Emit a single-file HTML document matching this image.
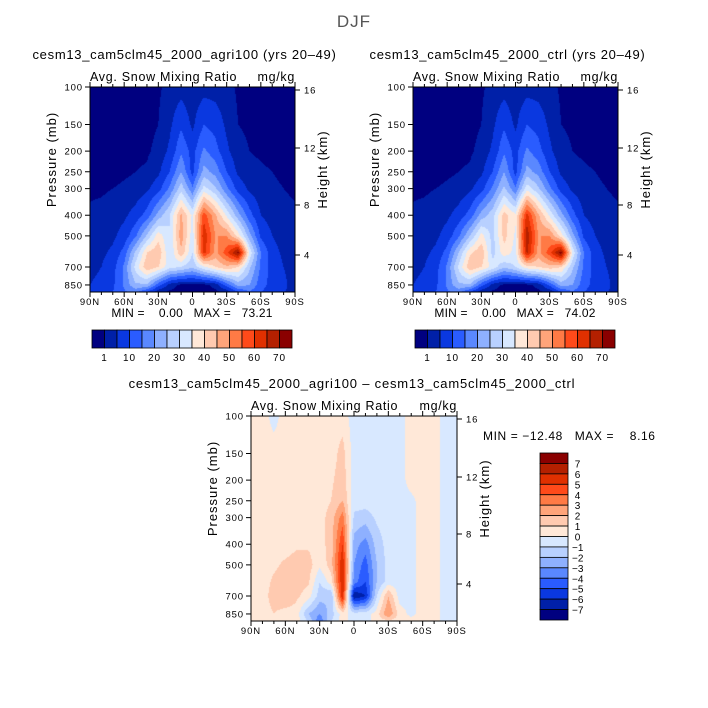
<!DOCTYPE html>
<html><head><meta charset="utf-8"><style>
body{margin:0;background:#fff;width:708px;height:708px;overflow:hidden;position:relative;font-family:"Liberation Sans",sans-serif;}
canvas{position:absolute;}
svg{position:absolute;left:0;top:0;}
text{white-space:pre;}
</style></head><body>
<canvas id="c1" width="205" height="205" style="left:90px;top:87px"></canvas>
<canvas id="c2" width="205" height="205" style="left:413px;top:87px"></canvas>
<canvas id="c3" width="206" height="205" style="left:251px;top:416px"></canvas>
<svg id="s" width="708" height="708"></svg>
<script>
const lats=[90,80,70,60,50,40,30,20,10,0,-10,-20,-30,-40,-50,-60,-70,-80,-90];
const levels=[100,150,200,250,300,400,500,600,700,850,925];
const fieldAgri=[
[0,0,0,0,0,0,0.5,2,3,2,3,3,2,0.5,0,0,0,0,0],
[0,0,0,0,0,0,1,4,9,4,10,8,4,1,0.5,0,0,0,0],
[0,0,0,0,0,0.5,2,6,14,8,16,12,6,2,1,0.5,0,0,0],
[0,0,0,0.5,1,1.5,4,10,20,8,22,18,10,4,2,1.5,1,0.5,0],
[0.5,0.5,1,1.5,2,4,8,16,28,16,32,26,16,8,4,2,1.5,1,0.5],
[1.5,2,3,4,7,12,22,30,46,34,58,46,34,22,12,5,3,2,1.5],
[2,3,4,7,14,26,38,30,48,32,64,50,50,38,22,9,5,3,2],
[3,4,6,12,26,40,44,30,44,30,62,48,58,72,34,15,7,4,2],
[4,5,8,16,32,44,40,32,30,26,34,40,44,40,26,14,8,5,3],
[5,6,9,16,24,24,12,3,0,0,0,2,12,22,20,12,8,6,3],
[5,6,10,14,16,8,0.5,0,0,0,0,0,0.5,8,14,10,7,5,4]];
const fieldCtrl=[
[0,0,0,0,0,0,0.5,2,3,2,3,3,2,0.5,0,0,0,0,0],
[0,0,0,0,0,0,1,4,9,4,10,8,4,1,0.5,0,0,0,0],
[0,0,0,0,0,0.5,2,6,14,8,16,12,6,2,1,0.5,0,0,0],
[0,0,0,0.5,1,1.5,4,10,20,8,22,18,10,4,2,1.5,1,0.5,0],
[0.5,0.5,1,1.5,2,4,8,16,26,16,33,26,16,8,4,2,1.5,1,0.5],
[1.5,2,3,4,7,12,22,28,42,36,62,46,34,22,12,5,3,2,1.5],
[2,3,4,7,14,25,37,28,42,34,69,50,50,38,22,9,5,3,2],
[3,4,6,12,25,39,44,28,38,33,66,48,58,73,34,15,7,4,2],
[4,5,8,16,31,44,40,33,26,30,38,40,43,40,26,14,8,5,3],
[5,6,9,16,24,24,12,3,0,0,0,2,11,22,20,12,8,6,3],
[5,6,10,14,16,8,0.5,0,0,0,0,0,0.5,8,14,10,7,5,4]];
const fieldDiff=[
[0.5,0.5,-0.4,0.5,0.5,0.5,0.5,0.5,0.5,-0.5,-0.5,-0.5,-0.5,-0.5,0.5,0.5,0.5,-0.5,-0.5],
[0.5,0.5,0.5,0.5,0.5,0.5,0.5,0.5,1.4,-0.5,-0.5,-0.5,-0.5,-0.5,0.5,0.5,0.5,-0.5,-0.5],
[0.5,0.5,0.5,0.5,0.5,0.5,0.5,0.8,1.6,-0.5,-0.5,-0.5,-0.5,-0.5,0.5,0.5,0.5,-0.5,-0.5],
[0.5,0.5,0.5,0.5,0.5,0.5,0.5,1,2,-0.6,-0.5,-0.5,-0.5,-0.5,-0.3,0.5,0.5,-0.5,-0.5],
[0.5,0.5,0.5,0.5,0.5,0.5,0.5,1.5,3.5,-1.2,-1.5,-0.8,-0.5,-0.5,-0.3,0.5,0.5,-0.5,-0.5],
[0.5,0.5,0.5,0.5,0.8,0.8,0.5,1.5,5,-2.5,-3.5,-1.5,-0.6,-0.5,-0.3,0.5,0.5,-0.5,-0.5],
[0.5,0.5,0.8,1.2,1.5,1.5,0.2,1.5,6,-3,-4.5,-2,-0.6,-0.5,-0.3,0.5,0.5,-0.5,-0.5],
[0.5,0.5,1.2,1.5,1.5,1.2,-1,0.5,6,-3.5,-5,-2,-0.5,-0.5,-0.3,0.5,0.5,-0.5,-0.5],
[0.5,0.5,1.5,2,1.2,0.5,-1.5,-2,6,-7,-6,-1,2,-0.5,-0.3,0.5,0.5,-0.5,-0.5],
[0.5,0.5,1,0.5,0.5,-2,-3,-1.5,0.5,-0.5,-0.5,0.5,3,0.5,-0.3,0.5,0.5,-0.5,-0.5],
[0.5,0.5,0.5,0.5,0.5,-1,-4,-1,0.5,-0.5,-0.5,0.5,0.5,0.5,0.5,0.5,0.5,-0.5,-0.5]];
const cb1Bounds=[1,5,10,15,20,25,30,35,40,45,50,55,60,65,70];
const cb1Labels=["1","10","20","30","40","50","60","70"];
const cb2Bounds=[-7,-6,-5,-4,-3,-2,-1,0,1,2,3,4,5,6,7];
const colors=["#000080","#0020a8","#0a38e0","#2a5cff","#5a88ff","#8eb0ff","#b8d0ff","#d8e8ff","#ffe8d8","#ffcab0","#ffa47a","#ff7a45","#ff4a1a","#e03000","#b42000","#8a0000"];

const K=92.5;
function yOfP(p){return K*Math.log(p/100);}
function xOfLat(lat,w){return (90-lat)/180*w;}
function colorFor(v,b){let i=0;while(i<b.length&&v>=b[i])i++;return colors[i];}
function sample(f,lat,p){
  let fi=(90-lat)/10; let i0=Math.min(Math.floor(fi),lats.length-2); let tx=fi-i0;
  const lp=Math.log(p); let j0=0;
  while(j0<levels.length-2&&Math.log(levels[j0+1])<lp)j0++;
  let ty=(lp-Math.log(levels[j0]))/(Math.log(levels[j0+1])-Math.log(levels[j0]));
  ty=Math.max(0,Math.min(1,ty));
  const a=f[j0][i0],b=f[j0][i0+1],c=f[j0+1][i0],d=f[j0+1][i0+1];
  return (a*(1-tx)+b*tx)*(1-ty)+(c*(1-tx)+d*tx)*ty;
}
function draw(id,f,b){
  const cv=document.getElementById(id),ctx=cv.getContext('2d'),W=cv.width,H=cv.height;
  for(let y=0;y<H;y++){const p=100*Math.exp((y+0.5)/K);
    for(let x=0;x<W;x++){const lat=90-(x+0.5)/W*180;
      ctx.fillStyle=colorFor(sample(f,lat,p),b);ctx.fillRect(x,y,1,1);}}
}
draw('c1',fieldAgri,cb1Bounds);draw('c2',fieldCtrl,cb1Bounds);draw('c3',fieldDiff,cb2Bounds);

const S=document.getElementById('s');const NS="http://www.w3.org/2000/svg";
function el(t,a,txt){const e=document.createElementNS(NS,t);for(const k in a)e.setAttribute(k,a[k]);if(txt!==undefined)e.textContent=txt;S.appendChild(e);return e;}
function text(x,y,s,size,anchor,name,extra){const e=el('text',Object.assign({x:x,y:y,'font-size':size,'text-anchor':anchor||'start',fill:'#000','font-family':'Liberation Sans, sans-serif'},extra||{}),s);

return e;}
text(354,27,"DJF",17,'middle','main-title',{fill:'#555','letter-spacing':1});
const pTicks=[100,150,200,250,300,400,500,700,850];
const hTicks=[[16,3],[12,61],[8,118],[4,168]];
const latTicks=[[90,"90N"],[60,"60N"],[30,"30N"],[0,"0"],[-30,"30S"],[-60,"60S"],[-90,"90S"]];
const LS={'letter-spacing':0.9};
function axes(x0,y0,w,h,title,pre){
  el('rect',{x:x0,y:y0,width:w,height:h,fill:'none',stroke:'#000','stroke-width':1});
  if(title)text(x0+w/2-8,y0-28,title,13,'middle',pre+'-title',{'letter-spacing':0.7});
  text(x0,y0-6,"Avg. Snow Mixing Ratio",12.5,'start',pre+'-subtitle',{'letter-spacing':0.7});
  text(x0+w,y0-6,"mg/kg",12.5,'end',pre+'-units',{'letter-spacing':0.7});
  pTicks.forEach(p=>{const y=y0+yOfP(p);el('line',{x1:x0,x2:x0-5,y1:y,y2:y,stroke:'#000'});
    text(x0-7,y+3.5,String(p),9.5,'end',pre+'-pressure-tick-'+p,LS);});
  hTicks.forEach(([v,dy])=>{const y=y0+dy;el('line',{x1:x0+w,x2:x0+w+5,y1:y,y2:y,stroke:'#000'});
    text(x0+w+9,y+3.5,String(v),9.5,'start',pre+'-height-tick-'+v,LS);});
  for(let lat=90;lat>=-90;lat-=10){const x=x0+xOfLat(lat,w);const maj=lat%30===0;
    el('line',{x1:x,x2:x,y1:y0+h,y2:y0+h+(maj?5:3),stroke:'#000'});
    el('line',{x1:x,x2:x,y1:y0,y2:y0-(maj?5:3),stroke:'#000'});}
  latTicks.forEach(([l,s])=>text(x0+xOfLat(l,w),y0+h+13,s,9.5,'middle',pre+'-lat-tick-'+s,LS));
  text(0,0,"Pressure (mb)",13,'middle',pre+'-y-axis-title',{transform:`translate(${x0-34},${y0+h/2-30}) rotate(-90)`,'letter-spacing':1});
  text(0,0,"Height (km)",13,'middle',pre+'-y2-axis-title',{transform:`translate(${x0+w+32},${y0+h/2-20}) rotate(-90)`,'letter-spacing':1});
}
axes(90,87,205,205,"cesm13_cam5clm45_2000_agri100 (yrs 20–49)",'agri100');
axes(413,87,205,205,"cesm13_cam5clm45_2000_ctrl (yrs 20–49)",'ctrl');
axes(251,416,206,205,null,'diff');
text(352,388,"cesm13_cam5clm45_2000_agri100 – cesm13_cam5clm45_2000_ctrl",13,'middle','diff-title',{'letter-spacing':0.8});
text(192,317,"MIN =    0.00   MAX =   73.21",12,'middle','agri100-minmax',{'letter-spacing':0.2});
text(515,317,"MIN =    0.00   MAX =   74.02",12,'middle','ctrl-minmax',{'letter-spacing':0.2});
text(483,440,"MIN = −12.48   MAX =    8.16",12,'start','diff-minmax',{'letter-spacing':0.6});
function hbar(x0,y0,w,h,pre){const bw=w/16;
  colors.forEach((c,i)=>{const r=el('rect',{x:x0+i*bw,y:y0,width:bw,height:h,fill:c,stroke:'#000','stroke-width':0.8});
    
    });
  cb1Labels.forEach((s,k)=>{const bi=k===0?0:2*k;text(x0+(bi+1)*bw,y0+h+13,s,10,'middle',pre+'-colorbar-label',LS);});
}
hbar(92,330,200,18,'agri100');hbar(415,330,200,18,'ctrl');
(function(){const x0=540,y0=453,w=28,h=167,bh=h/16;
  colors.slice().reverse().forEach((c,i)=>{const r=el('rect',{x:x0,y:y0+i*bh,width:w,height:bh,fill:c,stroke:'#000','stroke-width':0.8});
    
    });
  cb2Bounds.slice().reverse().forEach((v,i)=>{text(x0+w+4,y0+(i+1)*bh+4,(v<0?"−":" ")+Math.abs(v),10,'start','diff-colorbar-label');});
})();
</script>
</body></html>
